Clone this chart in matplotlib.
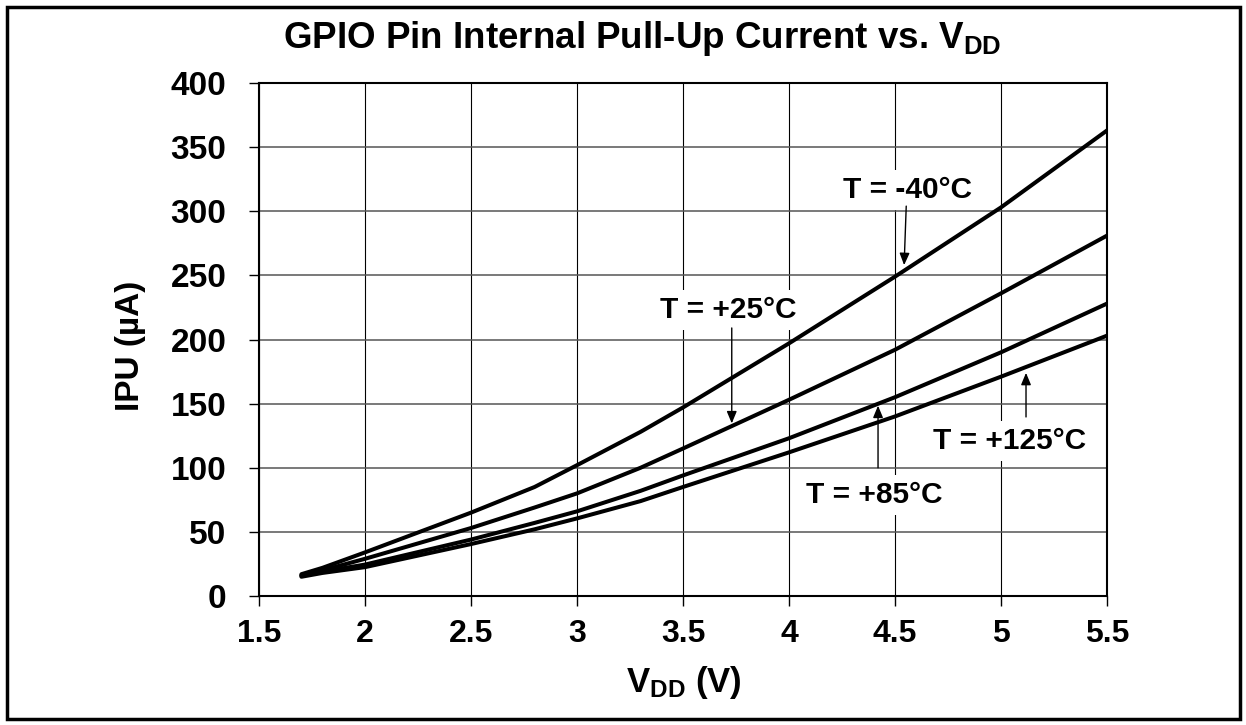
import numpy as np
import matplotlib
matplotlib.use('Agg')
import matplotlib.pyplot as plt
from matplotlib.patches import Rectangle

plt.rcParams['font.family'] = ['Liberation Sans', 'DejaVu Sans']
plt.rcParams['font.weight'] = 'bold'
plt.rcParams['mathtext.default'] = 'regular'

# data
vdd = [1.7, 1.8, 2.0, 2.5, 2.8, 3.0, 3.3, 3.5, 4.0, 4.5, 5.0, 5.5]
ipu_m40 = [17, 22, 34, 65, 85, 102, 128, 147, 197, 249, 303, 363]
ipu_25 = [16, 20, 29, 53, 69, 80, 100, 115, 153, 192, 236, 281]
ipu_85 = [16, 19, 24.5, 44, 57, 66, 82, 94, 123, 155, 190, 228]
ipu_125 = [15, 18, 22.5, 40.5, 52, 60.5, 74, 85, 112, 140, 171, 203]

x_ticks = [1.5, 2, 2.5, 3, 3.5, 4, 4.5, 5, 5.5]
x_ticklabels = ['1.5', '2', '2.5', '3', '3.5', '4', '4.5', '5', '5.5']
y_ticks = [0, 50, 100, 150, 200, 250, 300, 350, 400]

labels = ['T = -40°C', 'T = +25°C', 'T = +85°C', 'T = +125°C']

W, H = 1246, 725
fig = plt.figure(figsize=(W / 100, H / 100), dpi=100)
ax = fig.add_axes([259 / W, 1 - 596 / H, (1107 - 259) / W, (596 - 83) / H])

for ipu in [ipu_m40, ipu_25, ipu_85, ipu_125]:
    ax.plot(vdd, ipu, color='black', lw=2.9, solid_capstyle='round',
            solid_joinstyle='round', zorder=3)

ax.set_xlim(1.5, 5.5)
ax.set_ylim(0, 400)
ax.set_xticks(x_ticks)
ax.set_xticklabels(x_ticklabels)
ax.set_yticks(y_ticks)
ax.set_axisbelow(True)
ax.grid(axis='y', color='#555555', lw=1.1)
ax.grid(axis='x', color='black', lw=0.8)
for s in ax.spines.values():
    s.set_linewidth(1.5)
    s.set_color('black')
ax.tick_params(axis='both', direction='out', length=7.5, width=1)
ax.tick_params(axis='x', pad=9, labelsize=23)
ax.tick_params(axis='y', pad=16, labelsize=24)

# curve labels with arrows
label_pos = [(4.557, 310), (3.715, 217), (4.401, 72.5), (5.042, 114.6)]
arrow_from = [(4.553, 304), (3.73, 209), (4.42, 100), (5.118, 139.6)]
arrow_to = [(4.543, 258), (3.73, 134.6), (4.42, 148.4), (5.118, 174)]
for lab, p, a0, a1 in zip(labels, label_pos, arrow_from, arrow_to):
    ax.text(p[0], p[1], lab, ha='center', va='baseline', fontsize=21.5,
            zorder=4, bbox=dict(fc='white', ec='none', boxstyle='square,pad=0.2'))
    ax.annotate('', xy=a1, xytext=a0, zorder=5,
                arrowprops=dict(arrowstyle='-|>,head_length=0.6,head_width=0.25',
                                color='black', lw=1, shrinkA=0, shrinkB=0,
                                mutation_scale=12))

fig.text(642 / W, 1 - 48 / H, r'GPIO Pin Internal Pull-Up Current vs. V$_{DD}$',
         ha='center', va='baseline', fontsize=26.5)
fig.text(684 / W, 1 - 692 / H, r'V$_{DD}$ (V)', ha='center', va='baseline', fontsize=25)
fig.text(130 / W, 1 - 346 / H, 'IPU (µA)', rotation=90, ha='center', va='center',
         fontsize=24)

fig.patches.append(Rectangle((6.5 / W, 6.5 / H), 1 - 13 / W, 1 - 13 / H,
                             transform=fig.transFigure, fill=False,
                             ec='black', lw=2.5))

fig.savefig('out.png', dpi=100)
